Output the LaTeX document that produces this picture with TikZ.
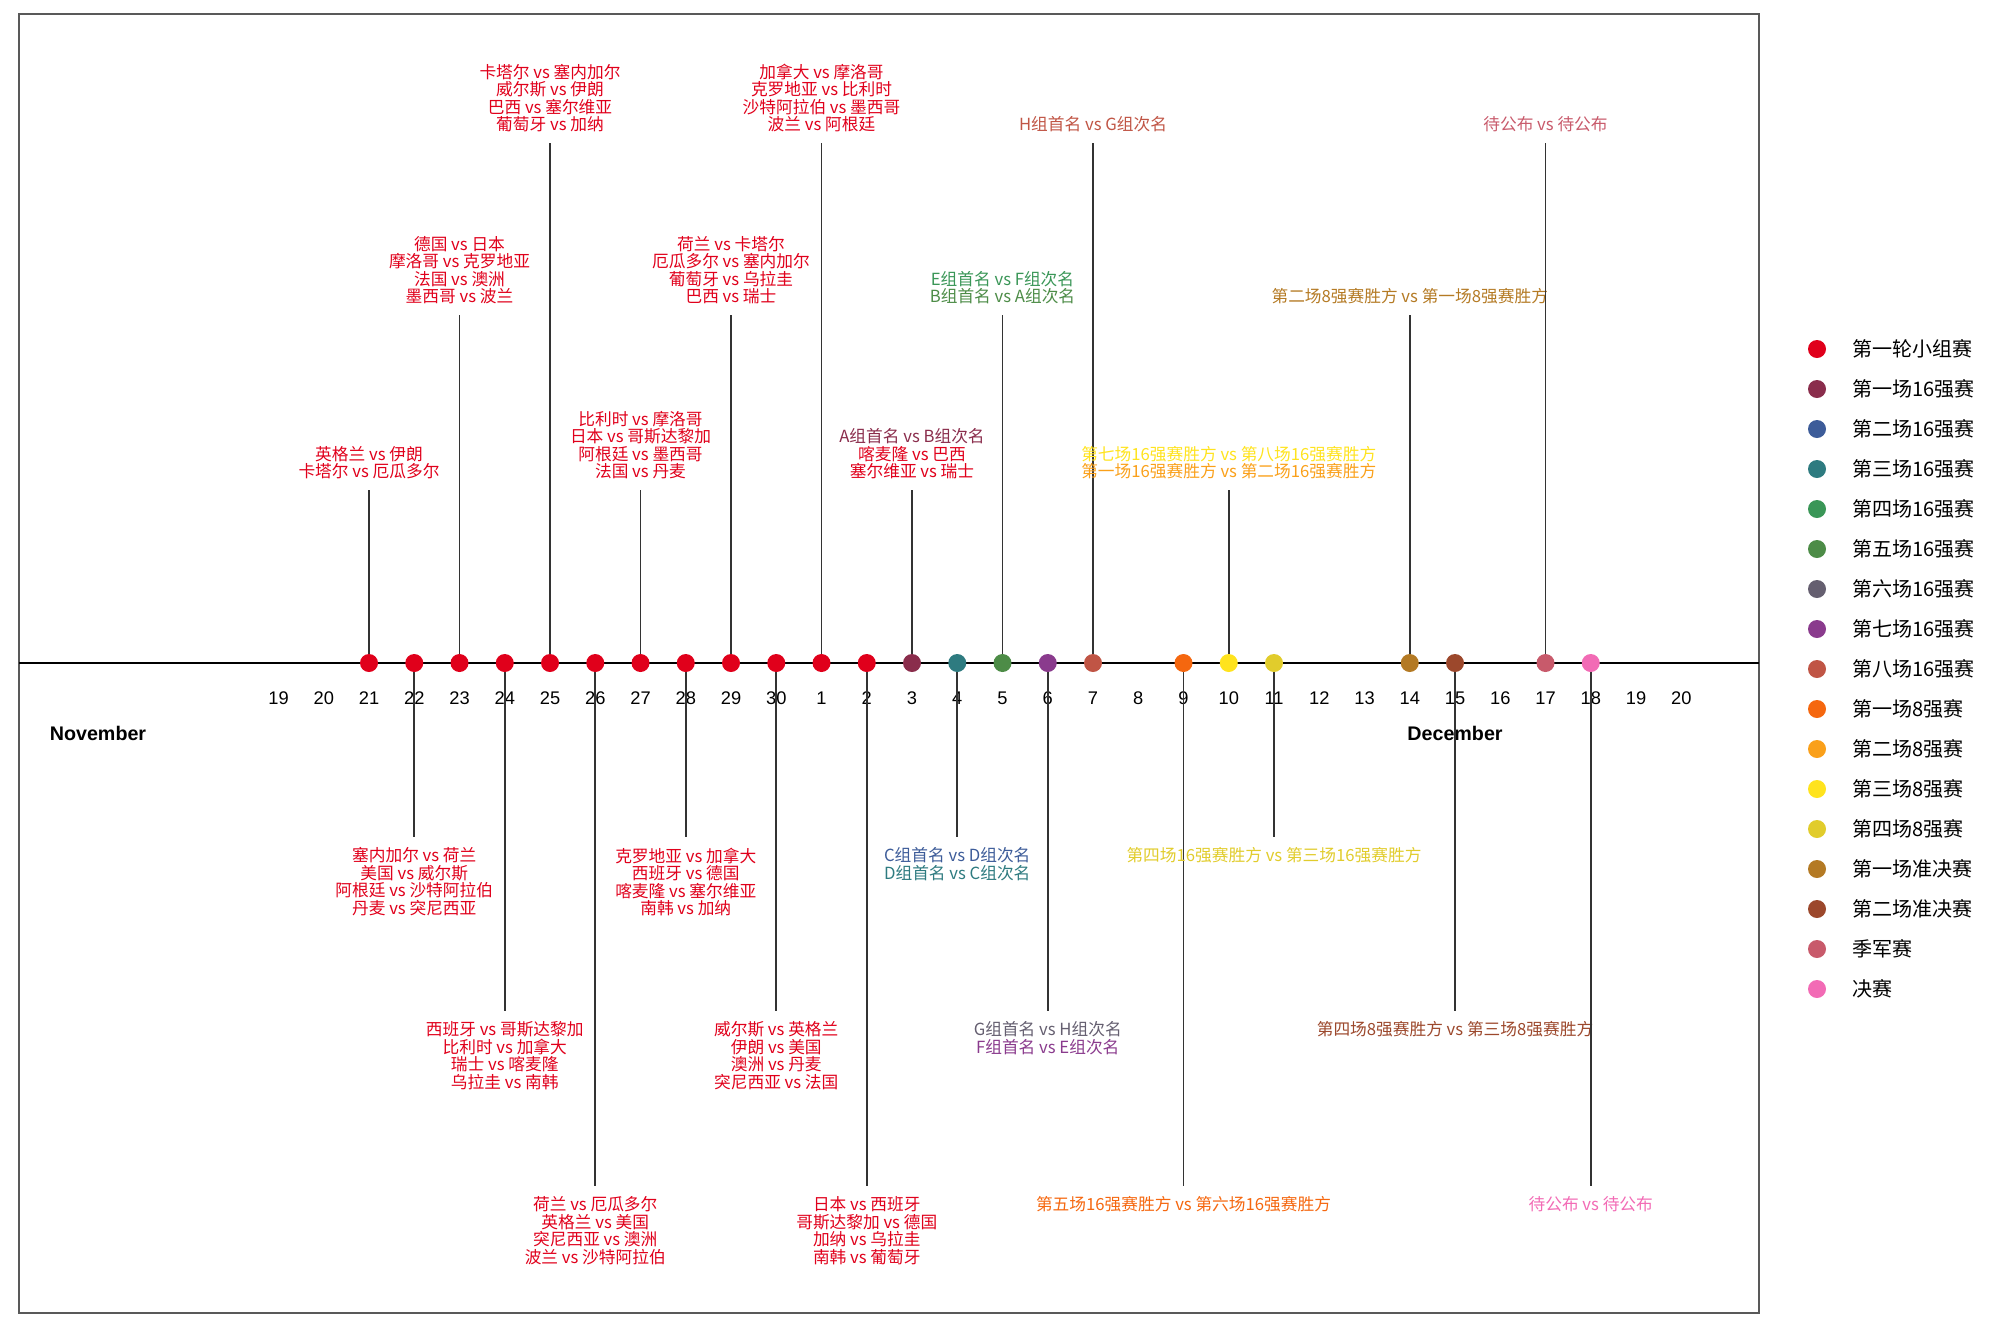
\documentclass[tikz,border=0pt]{standalone}
\usepackage{fontspec}
\setmainfont{Liberation Sans}
\newfontfamily\cjk{Noto Sans CJK SC}
\usetikzlibrary{positioning}

\definecolor{grp}{HTML}{E0001B}
\definecolor{r1}{HTML}{8A2D4C}
\definecolor{r2}{HTML}{3D5C99}
\definecolor{r3}{HTML}{2E7B80}
\definecolor{r4}{HTML}{3A9657}
\definecolor{r5}{HTML}{4D8C47}
\definecolor{r6}{HTML}{655F70}
\definecolor{r7}{HTML}{8A3B8D}
\definecolor{r8}{HTML}{C05545}
\definecolor{q1}{HTML}{F5670F}
\definecolor{q2}{HTML}{FAA01A}
\definecolor{q3}{HTML}{FFE31E}
\definecolor{q4}{HTML}{E1CC2C}
\definecolor{s1}{HTML}{B47A24}
\definecolor{s2}{HTML}{9C482C}
\definecolor{third}{HTML}{C85A6B}
\definecolor{final}{HTML}{F26BB5}

\tikzset{
	dot/.style={circle, minimum size=0.18cm, inner sep=0pt},
	stem/.style={draw=black!80, line width=0.55pt},
	up/.style={anchor=south, align=center, inner xsep=0pt, inner ysep=0.1cm,
		font=\cjk\fontsize{4.75}{4.97}\selectfont},
	down/.style={up, anchor=north},
	day/.style={font=\fontsize{5.2}{6}\selectfont},
	month/.style={font=\bfseries\fontsize{5.6}{7}\selectfont},
	legend/.style={inner sep=0pt, font=\cjk\fontsize{5.7}{7}\selectfont}
}

\begin{document}
\begin{tikzpicture}[x=0.01cm, y=-0.01cm]
        \useasboundingbox (0,0) rectangle (2000,1333);
        \draw [gray!70!black, line width=0.5pt] (19,14) rectangle (1759,1313);

        %axis
        \coordinate (axl) at (19,663);
        \coordinate (axr) at (1759,663);
        \draw [line width=0.6pt] (axl)--(axr);

        \foreach \d [count=\i from 0] in {19,20,...,30,1,2,...,20}
            \node[day] (d\i) at ({278.5+45.25*\i},698) {\d};
        \node[month] (nov) at (98,733) {November};
        \node[month] (dec) at (1455,733) {December};

        %above the axis
        \coordinate (n21) at (369,663);
        \node[up, text=grp] (t21) at (369,490) {英格兰 vs 伊朗\\卡塔尔 vs 厄瓜多尔};
        \draw [stem] (n21)--(t21.south);

        \coordinate (n23) at (459.5,663);
        \node[up, text=grp] (t23) at (459.5,315) {德国 vs 日本\\摩洛哥 vs 克罗地亚\\法国 vs 澳洲\\墨西哥 vs 波兰};
        \draw [stem] (n23)--(t23.south);

        \coordinate (n25) at (550,663);
        \node[up, text=grp] (t25) at (550,143) {卡塔尔 vs 塞内加尔\\威尔斯 vs 伊朗\\巴西 vs 塞尔维亚\\葡萄牙 vs 加纳};
        \draw [stem] (n25)--(t25.south);

        \coordinate (n27) at (640.5,663);
        \node[up, text=grp] (t27) at (640.5,490) {比利时 vs 摩洛哥\\日本 vs 哥斯达黎加\\阿根廷 vs 墨西哥\\法国 vs 丹麦};
        \draw [stem] (n27)--(t27.south);

        \coordinate (n29) at (731,663);
        \node[up, text=grp] (t29) at (731,315) {荷兰 vs 卡塔尔\\厄瓜多尔 vs 塞内加尔\\葡萄牙 vs 乌拉圭\\巴西 vs 瑞士};
        \draw [stem] (n29)--(t29.south);

        \coordinate (m1) at (821.5,663);
        \node[up, text=grp] (u1) at (821.5,143) {加拿大 vs 摩洛哥\\克罗地亚 vs 比利时\\沙特阿拉伯 vs 墨西哥\\波兰 vs 阿根廷};
        \draw [stem] (m1)--(u1.south);

        \coordinate (m3) at (912,663);
        \node[up, text=grp] (u3) at (912,490) {{\color{r1}A组首名 vs B组次名}\\喀麦隆 vs 巴西\\塞尔维亚 vs 瑞士};
        \draw [stem] (m3)--(u3.south);

        \coordinate (m5) at (1002.5,663);
        \node[up] (u5) at (1002.5,315) {{\color{r4}E组首名 vs F组次名}\\{\color{r5}B组首名 vs A组次名}};
        \draw [stem] (m5)--(u5.south);

        \coordinate (m7) at (1093,663);
        \node[up, text=r8] (u7) at (1093,143) {H组首名 vs G组次名};
        \draw [stem] (m7)--(u7.south);

        \coordinate (m10) at (1228.75,663);
        \node[up] (u10) at (1228.75,490) {{\color{q3}第七场16强赛胜方 vs 第八场16强赛胜方}\\{\color{q2}第一场16强赛胜方 vs 第二场16强赛胜方}};
        \draw [stem] (m10)--(u10.south);

        \coordinate (m14) at (1409.75,663);
        \node[up, text=s1] (u14) at (1409.75,315) {第二场8强赛胜方 vs 第一场8强赛胜方};
        \draw [stem] (m14)--(u14.south);

        \coordinate (m17) at (1545.5,663);
        \node[up, text=third] (u17) at (1545.5,143) {待公布 vs 待公布};
        \draw [stem] (m17)--(u17.south);

        %below the axis
        \coordinate (n22) at (414.25,663);
        \node[down, text=grp] (t22) at (414.25,837) {塞内加尔 vs 荷兰\\美国 vs 威尔斯\\阿根廷 vs 沙特阿拉伯\\丹麦 vs 突尼西亚};
        \draw [stem] (n22)--(t22.north);

        \coordinate (n24) at (504.75,663);
        \node[down, text=grp] (t24) at (504.75,1011) {西班牙 vs 哥斯达黎加\\比利时 vs 加拿大\\瑞士 vs 喀麦隆\\乌拉圭 vs 南韩};
        \draw [stem] (n24)--(t24.north);

        \coordinate (n26) at (595.25,663);
        \node[down, text=grp] (t26) at (595.25,1186) {荷兰 vs 厄瓜多尔\\英格兰 vs 美国\\突尼西亚 vs 澳洲\\波兰 vs 沙特阿拉伯};
        \draw [stem] (n26)--(t26.north);

        \coordinate (n28) at (685.75,663);
        \node[down, text=grp] (t28) at (685.75,837) {克罗地亚 vs 加拿大\\西班牙 vs 德国\\喀麦隆 vs 塞尔维亚\\南韩 vs 加纳};
        \draw [stem] (n28)--(t28.north);

        \coordinate (n30) at (776.25,663);
        \node[down, text=grp] (t30) at (776.25,1011) {威尔斯 vs 英格兰\\伊朗 vs 美国\\澳洲 vs 丹麦\\突尼西亚 vs 法国};
        \draw [stem] (n30)--(t30.north);

        \coordinate (m2) at (866.75,663);
        \node[down, text=grp] (u2) at (866.75,1186) {日本 vs 西班牙\\哥斯达黎加 vs 德国\\加纳 vs 乌拉圭\\南韩 vs 葡萄牙};
        \draw [stem] (m2)--(u2.north);

        \coordinate (m4) at (957.25,663);
        \node[down] (u4) at (957.25,837) {{\color{r2}C组首名 vs D组次名}\\{\color{r3}D组首名 vs C组次名}};
        \draw [stem] (m4)--(u4.north);

        \coordinate (m6) at (1047.75,663);
        \node[down] (u6) at (1047.75,1011) {{\color{r6}G组首名 vs H组次名}\\{\color{r7}F组首名 vs E组次名}};
        \draw [stem] (m6)--(u6.north);

        \coordinate (m9) at (1183.5,663);
        \node[down, text=q1] (u9) at (1183.5,1186) {第五场16强赛胜方 vs 第六场16强赛胜方};
        \draw [stem] (m9)--(u9.north);

        \coordinate (m11) at (1274,663);
        \node[down, text=q4] (u11) at (1274,837) {第四场16强赛胜方 vs 第三场16强赛胜方};
        \draw [stem] (m11)--(u11.north);

        \coordinate (m15) at (1455,663);
        \node[down, text=s2] (u15) at (1455,1011) {第四场8强赛胜方 vs 第三场8强赛胜方};
        \draw [stem] (m15)--(u15.north);

        \coordinate (m18) at (1590.75,663);
        \node[down, text=final] (u18) at (1590.75,1186) {待公布 vs 待公布};
        \draw [stem] (m18)--(u18.north);

        %dots
        \foreach \p in {n21,n22,n23,n24,n25,n26,n27,n28,n29,n30,m1,m2}
            \node[dot, fill=grp] (p\p) at (\p) {};
        \node[dot, fill=r1] (pm3) at (m3) {};
        \node[dot, fill=r3] (pm4) at (m4) {};
        \node[dot, fill=r5] (pm5) at (m5) {};
        \node[dot, fill=r7] (pm6) at (m6) {};
        \node[dot, fill=r8] (pm7) at (m7) {};
        \node[dot, fill=q1] (pm9) at (m9) {};
        \node[dot, fill=q3] (pm10) at (m10) {};
        \node[dot, fill=q4] (pm11) at (m11) {};
        \node[dot, fill=s1] (pm14) at (m14) {};
        \node[dot, fill=s2] (pm15) at (m15) {};
        \node[dot, fill=third] (pm17) at (m17) {};
        \node[dot, fill=final] (pm18) at (m18) {};

        %legend
        \foreach \c/\t [count=\k from 0] in {grp/第一轮小组赛, r1/第一场16强赛, r2/第二场16强赛,
                r3/第三场16强赛, r4/第四场16强赛, r5/第五场16强赛, r6/第六场16强赛,
                r7/第七场16强赛, r8/第八场16强赛, q1/第一场8强赛, q2/第二场8强赛,
                q3/第三场8强赛, q4/第四场8强赛, s1/第一场准决赛, s2/第二场准决赛,
                third/季军赛, final/决赛}
        {
            \node[dot, fill=\c] (k\k) at (1817,{349+40*\k}) {};
            \node[legend, right=0.25cm of k\k] (lk\k) {\t};
        }
    \end{tikzpicture}
\end{document}
